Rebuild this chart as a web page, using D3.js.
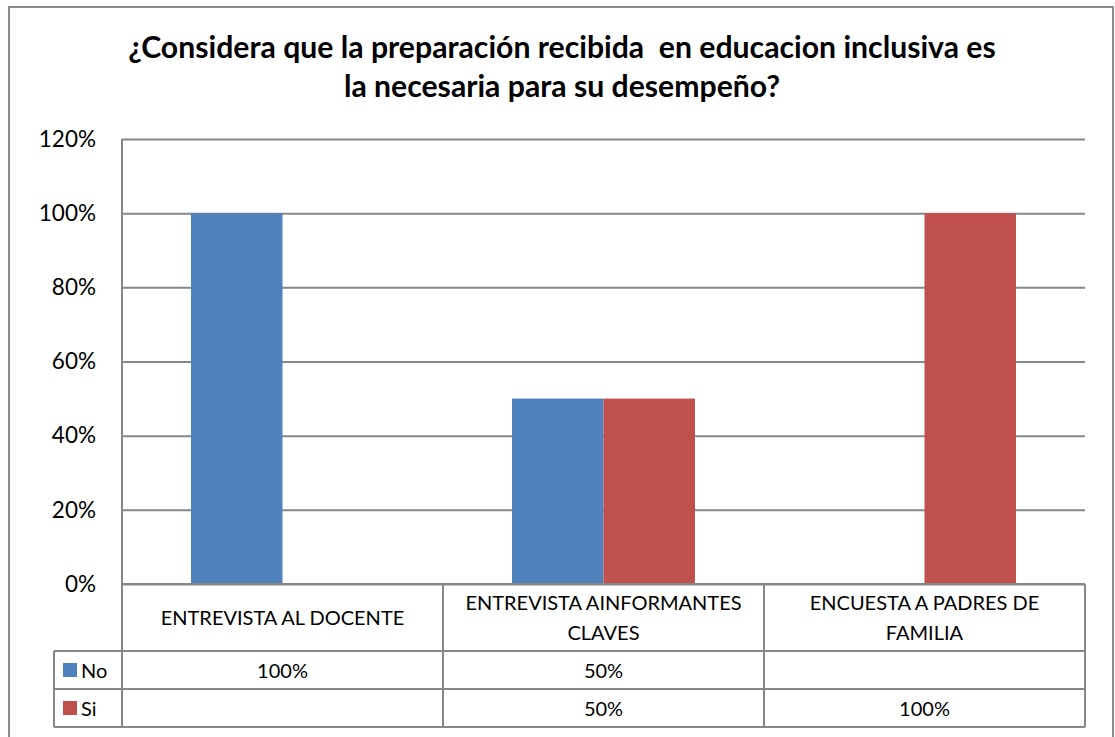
<!DOCTYPE html>
<html lang="en">
<head>
    <meta charset="UTF-8">
    <title>Preparación en educación inclusiva</title>
    <script src="https://d3js.org/d3.v7.min.js"></script>
    <style>
        body, html { margin: 0; padding: 0; background: #fff; }
        svg { display: block; font-family: Lato, "Open Sans", sans-serif; }
    </style>
</head>
<body>
<div id="chart"></div>
<script>
    // data
    var titleLines = ["¿Considera que la preparación recibida  en educacion inclusiva es",
                      "la necesaria para su desempeño?"];
    var categories = ["ENTREVISTA AL DOCENTE", "ENTREVISTA AINFORMANTES CLAVES", "ENCUESTA A PADRES DE FAMILIA"];
    var categoryLines = [["ENTREVISTA AL DOCENTE"], ["ENTREVISTA AINFORMANTES", "CLAVES"], ["ENCUESTA A PADRES DE", "FAMILIA"]];
    var seriesNames = ["No", "Si"];
    var noValues = [1.0, 0.5, null];
    var siValues = [null, 0.5, 1.0];
    var yTicks = [0, 0.2, 0.4, 0.6, 0.8, 1.0, 1.2];
    var colors = ["#4F81BD", "#C0504D"];

    var W = 1115, H = 737;
    var plot = { left: 122, right: 1085, top: 139, bottom: 584 };
    var rowCat = 651, rowNo = 689, rowSi = 727, legendLeft = 54;
    var lineCol = "#878787";

    var svg = d3.select("#chart").append("svg")
        .attr("width", W).attr("height", H);

    // outer frame
    svg.append("rect")
        .attr("x", 9).attr("y", 7)
        .attr("width", 1104).attr("height", 760)
        .attr("fill", "white").attr("stroke", "#8c8c8c").attr("stroke-width", 2);

    // title
    svg.append("text")
        .attr("text-anchor", "middle")
        .style("font-weight", "bold").style("font-size", "30.2px").style("fill", "#000")
        .style("white-space", "pre")
        .selectAll("tspan").data(titleLines).enter().append("tspan")
        .attr("x", 562).attr("y", (d, i) => 58 + i * 39)
        .text(d => d);

    var x0 = d3.scaleBand().domain(categories)
        .range([plot.left, plot.right]).paddingInner(0.43).paddingOuter(0.215);
    var x1 = d3.scaleBand().domain(seriesNames).range([0, x0.bandwidth()]);
    var y = d3.scaleLinear().domain([0, 1.2]).range([plot.bottom, plot.top]);

    // gridlines + y labels
    var yAxis = svg.append("g")
        .attr("transform", "translate(" + plot.left + ",0)")
        .call(d3.axisLeft(y).tickValues(yTicks)
            .tickFormat(d3.format(".0%"))
            .tickSize(-(plot.right - plot.left)).tickPadding(26));
    yAxis.select(".domain").remove();
    yAxis.selectAll(".tick line").attr("stroke", lineCol).attr("stroke-width", 2);
    yAxis.selectAll(".tick text")
        .style("font-size", "22.5px").style("fill", "#000")
        .style("font-family", "Lato, sans-serif");

    // bars
    var series = [noValues, siValues];
    var barData = [];
    series.forEach((vals, s) => {
        vals.forEach((v, c) => {
            if (v != null) barData.push({ cat: categories[c], name: seriesNames[s], value: v, s: s });
        });
    });
    svg.append("g").selectAll("rect").data(barData).enter().append("rect")
        .attr("x", d => x0(d.cat) + x1(d.name))
        .attr("y", d => y(d.value))
        .attr("width", x1.bandwidth())
        .attr("height", d => y(0) - y(d.value))
        .attr("fill", d => colors[d.s]);

    // left axis line
    svg.append("line")
        .attr("x1", plot.left).attr("x2", plot.left)
        .attr("y1", plot.top).attr("y2", rowSi)
        .attr("stroke", lineCol).attr("stroke-width", 2);
    // zero line
    svg.append("line")
        .attr("x1", plot.left).attr("x2", plot.right)
        .attr("y1", y(0)).attr("y2", y(0))
        .attr("stroke", lineCol).attr("stroke-width", 2);

    // data table
    var table = svg.append("g").attr("stroke", lineCol).attr("stroke-width", 2);
    [rowCat, rowNo, rowSi].forEach(yy => {
        table.append("line").attr("x1", legendLeft).attr("x2", plot.right)
            .attr("y1", yy).attr("y2", yy);
    });
    table.append("line").attr("x1", legendLeft).attr("x2", legendLeft)
        .attr("y1", rowCat).attr("y2", rowSi);
    var step = x0.step();
    var colEdges = categories.map((c, i) => plot.left + i * step).concat([plot.right]);
    colEdges.forEach(xx => {
        table.append("line").attr("x1", xx).attr("x2", xx)
            .attr("y1", plot.bottom).attr("y2", rowSi);
    });

    // category labels
    var colCenter = c => x0(c) + x0.bandwidth() / 2;
    categoryLines.forEach((lines, i) => {
        var t = svg.append("text").attr("text-anchor", "middle")
            .style("font-size", "20px").style("fill", "#000");
        var y0 = lines.length === 1 ? 625 : 610;
        lines.forEach((ln, j) => {
            t.append("tspan").attr("x", colCenter(categories[i])).attr("y", y0 + j * 30).text(ln);
        });
    });

    // legend keys + values
    var rowMid = [(rowCat + rowNo) / 2, (rowNo + rowSi) / 2];
    var fmt = d3.format(".0%");
    series.forEach((vals, s) => {
        svg.append("rect")
            .attr("x", 63).attr("y", rowMid[s] - 7)
            .attr("width", 14).attr("height", 14)
            .attr("fill", colors[s]);
        svg.append("text")
            .attr("x", 81).attr("y", rowMid[s] + 7.5)
            .style("font-size", "20px").style("fill", "#000")
            .text(seriesNames[s]);
        vals.forEach((v, c) => {
            if (v == null) return;
            svg.append("text")
                .attr("x", colCenter(categories[c])).attr("y", rowMid[s] + 7.5)
                .attr("text-anchor", "middle")
                .style("font-size", "20px").style("fill", "#000")
                .text(fmt(v));
        });
    });
</script>
</body>
</html>
